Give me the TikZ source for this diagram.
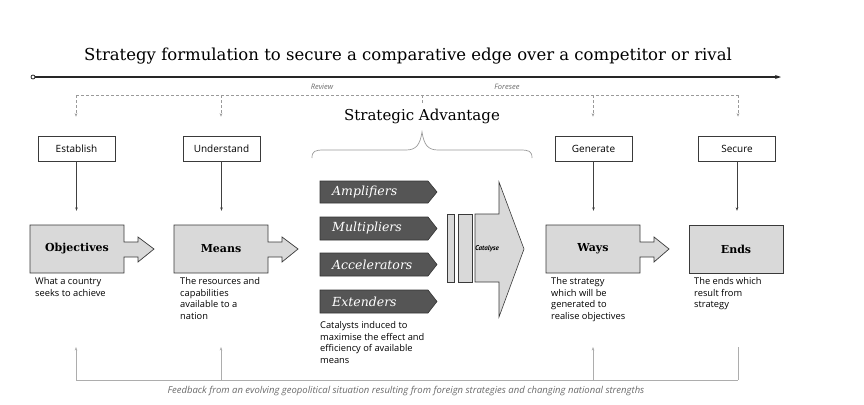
\documentclass[tikz,border=0pt]{standalone}
\usepackage{fontspec}
\setmainfont{DejaVu Serif}
\setsansfont{Open Sans}
\newfontfamily\ptsans{PT Sans}
\usetikzlibrary{arrows.meta,calc}
\definecolor{boxgray}{HTML}{D9D9D9}
\definecolor{darkfill}{HTML}{555555}
\definecolor{edgec}{HTML}{3A3A3A}
\definecolor{dashc}{HTML}{9A9A9A}
\definecolor{fbc}{HTML}{ADADAD}
\definecolor{txtgray}{HTML}{6A6A6A}
\tikzset{
  topbox/.style={draw=edgec,line width=0.6pt,fill=white,minimum width=77pt,minimum height=25pt,inner sep=0pt,font=\sffamily\fontsize{10}{12}\selectfont},
  mainbox/.style={minimum width=94pt,minimum height=48pt,inner sep=0pt,font=\bfseries\fontsize{11}{13}\selectfont},
  shapefill/.style={draw=edgec,line width=0.7pt,fill=boxgray},
  chev/.style={draw=black!80,line width=0.6pt,fill=darkfill},
  chevtxt/.style={anchor=west,inner sep=0pt,text=white,font=\itshape\fontsize{12.5}{14}\selectfont},
  subtxt/.style={anchor=north west,inner sep=0pt,align=left,font=\sffamily\fontsize{9.3}{11.6}\selectfont},
  tip/.style={-{Stealth[length=3.5pt,width=2.6pt]}},
  dline/.style={draw=dashc,dashed,dash pattern=on 3pt off 2pt,line width=0.6pt},
  fbline/.style={draw=fbc,line width=0.8pt},
}
\begin{document}
\begin{tikzpicture}[x=1pt,y=-1pt]
\useasboundingbox (0,0) rectangle (864,404);

% title and timeline
\node[font=\fontsize{16.5}{19}\selectfont] (title) at (408,56) {Strategy formulation to secure a comparative edge over a competitor or rival};
\coordinate (tl0) at (33,77);
\coordinate (tl1) at (781,77);
\draw[line width=1.3pt,draw=black!85,-{Stealth[length=6pt,width=4pt]}] (tl0) -- (tl1);
\node[draw=black!85,line width=0.8pt,fill=white,circle,inner sep=0pt,minimum size=4pt] (tlc) at (tl0) {};

% dashed review/foresee line
\coordinate (d1) at (76,95);
\coordinate (d2) at (221,95);
\coordinate (dm) at (422,95);
\coordinate (d3) at (593,95);
\coordinate (d4) at (738,95);
\draw[dline] (d1) -- (d4);
\node[font=\sffamily\itshape\fontsize{7.5}{9}\selectfont,text=txtgray] (rev) at (322,87) {Review};
\node[font=\sffamily\itshape\fontsize{7.5}{9}\selectfont,text=txtgray] (fore) at (507,87) {Foresee};

% top boxes
\node[topbox] (est) at (76.5,148.5) {Establish};
\node[topbox] (und) at (221.5,148.5) {Understand};
\node[topbox] (gen) at (593.5,148.5) {Generate};
\node[topbox] (sec) at (737,148.5) {Secure};

\foreach \c/\b in {d1/est,d2/und,d3/gen,d4/sec}{
  \draw[dline,tip,shorten >=19pt] (\c) -- (\c |- \b.north);
}

% strategic advantage + brace
\node[font=\fontsize{15}{18}\selectfont] (sa) at (422,116) {Strategic Advantage};
\draw[dline] (dm) -- ++(0,8);
\draw[draw=dashc,line width=0.7pt] (312,158) .. controls (312,151) and (315,150) .. (324,150) -- (406,150) .. controls (416,150) and (420,145) .. (422,132) .. controls (424,145) and (428,150) .. (438,150) -- (520,150) .. controls (529,150) and (532,151) .. (532,158);

% main boxes with arrows
\draw[shapefill] (30,225) -- (124,225) -- (124,242) -- (138,242) -- (138,237) -- (154,249) -- (138,262) -- (138,257) -- (124,257) -- (124,273) -- (30,273) -- cycle;
\node[mainbox] (obj) at (77,249) {Objectives};
\draw[shapefill] (174,225) -- (268,225) -- (268,242) -- (282,242) -- (282,237) -- (298,249) -- (282,262) -- (282,257) -- (268,257) -- (268,273) -- (174,273) -- cycle;
\node[mainbox] (mea) at (221,249) {Means};
\draw[shapefill] (546,225) -- (640,225) -- (640,242) -- (654,242) -- (654,237) -- (669,249) -- (654,262) -- (654,257) -- (640,257) -- (640,273) -- (546,273) -- cycle;
\node[mainbox] (way) at (593,249) {Ways};
\draw[shapefill] (689,225) rectangle (783,273);
\node[mainbox] (end) at (736,249) {Ends};

\foreach \a/\b in {est/obj,und/mea,gen/way,sec/end}{
  \draw[draw=black!75,line width=0.6pt,tip,shorten >=14pt] (\a.south) -- (\a.south |- \b.north);
}

% chevrons
\draw[chev] (320,181) -- (428,181) -- (437,192) -- (428,203) -- (320,203) -- cycle;
\node[chevtxt] (amp) at (332,192) {Amplifiers};
\draw[chev] (320,217) -- (428,217) -- (437,228.5) -- (428,240) -- (320,240) -- cycle;
\node[chevtxt] (mul) at (332,228.5) {Multipliers};
\draw[chev] (320,253) -- (428,253) -- (437,264.5) -- (428,276) -- (320,276) -- cycle;
\node[chevtxt] (acc) at (332,264.5) {Accelerators};
\draw[chev] (320,290) -- (428,290) -- (437,301.5) -- (428,313) -- (320,313) -- cycle;
\node[chevtxt] (ext) at (332,301.5) {Extenders};

% catalyse
\draw[shapefill,line width=0.6pt] (447,214) rectangle (454,282);
\draw[shapefill,line width=0.6pt] (458,214) rectangle (472,282);
\draw[shapefill,line width=0.6pt] (475,214) -- (499,214) -- (499,182) -- (524,249) -- (499,317) -- (499,282) -- (475,282) -- cycle;
\node[font=\ptsans\bfseries\itshape\fontsize{7}{8}\selectfont,inner sep=0pt] (cat) at (487,249) {Catalyse};

% sub texts
\node[subtxt] (objt) at (35,277.5) {What a country\\seeks to achieve};
\node[subtxt] (meat) at (180,277.5) {The resources and\\capabilities\\available to a\\nation};
\node[subtxt] (catt) at (320,321.5) {Catalysts induced to\\maximise the effect and\\efficiency of available\\means};
\node[subtxt] (wayt) at (551,277.5) {The strategy\\which will be\\generated to\\realise objectives};
\node[subtxt] (endt) at (694,277.5) {The ends which\\result from\\strategy};

% feedback
\coordinate (f1) at (76,380);
\coordinate (f2) at (221,380);
\coordinate (f3) at (593,380);
\coordinate (f4) at (738,380);
\coordinate (g4) at (738,347);
\draw[fbline] (f1) -- (f4);
\foreach \f in {f1,f2,f3}{
  \draw[fbline,tip] (\f) -- ++(0,-33);
}
\draw[fbline] (f4) -- (g4);
\node[font=\sffamily\itshape\fontsize{9.5}{11}\selectfont,text=txtgray] (fb) at (406,391) {Feedback from an evolving geopolitical situation resulting from foreign strategies and changing national strengths};
\end{tikzpicture}
\end{document}
